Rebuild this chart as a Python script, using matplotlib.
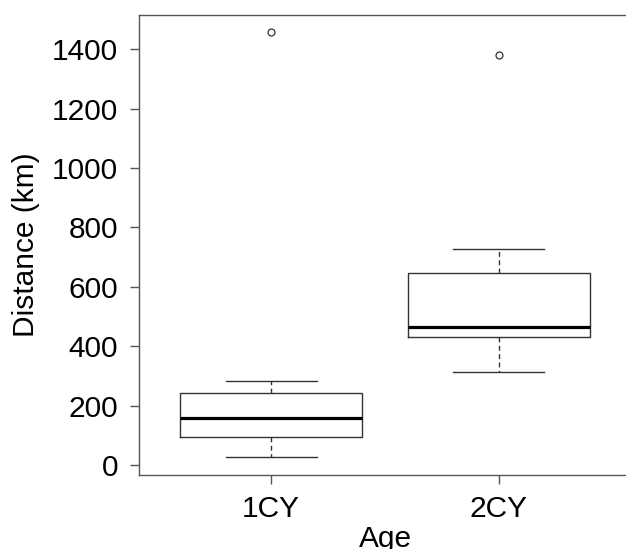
import matplotlib
matplotlib.use("Agg")
import matplotlib.pyplot as plt

# ------------------------
# DATA
# ------------------------
groups = ["1CY", "2CY"]
whisker_low = [26, 315]
q1 = [94, 430]
median = [158, 464]
q3 = [243, 646]
whisker_high = [283, 729]
outliers = [[1459], [1382]]

yticks = [0, 200, 400, 600, 800, 1000, 1200, 1400]

plt.rcParams["font.family"] = ["Liberation Sans", "DejaVu Sans"]
line_col = "#333333"
fs = 21.5

stats = []
for i, g in enumerate(groups):
    stats.append({
        "label": g,
        "whislo": whisker_low[i],
        "q1": q1[i],
        "med": median[i],
        "q3": q3[i],
        "whishi": whisker_high[i],
        "fliers": outliers[i],
    })

# ------------------------
# PLOT
# ------------------------
fig = plt.figure(figsize=(6.26, 5.49), dpi=100)
ax = fig.add_axes([0.222, 0.1348, 0.786, 0.8379])

ax.bxp(
    stats,
    positions=[1, 2],
    widths=0.8,
    capwidths=0.4,
    boxprops=dict(color=line_col, linewidth=1.0),
    medianprops=dict(color="black", linewidth=2.3),
    whiskerprops=dict(color=line_col, linewidth=1.0, linestyle=(0, (3.5, 2.5))),
    capprops=dict(color=line_col, linewidth=1.0),
    flierprops=dict(marker="o", markersize=5, markerfacecolor="none",
                    markeredgecolor=line_col, markeredgewidth=0.9),
)

ax.set_xlim(0.42, 2.58)
ax.set_ylim(-33, 1515)
ax.set_yticks(yticks)
ax.set_xticks([1, 2])
ax.set_xticklabels(groups)

for s in ax.spines.values():
    s.set_color("#555555")
    s.set_linewidth(1.0)

ax.tick_params(axis="both", direction="out", length=6.5, width=1.0,
               color="#555555", labelsize=fs)
ax.tick_params(axis="y", pad=8.5)
ax.tick_params(axis="x", pad=8)

fig.text(0.019, 0.5535, "Distance (km)", rotation=90, ha="left", va="center",
         fontsize=fs)
fig.text(0.6155, 0.0036, "Age", ha="center", va="baseline", fontsize=fs)

fig.savefig("out.png", dpi=100)
